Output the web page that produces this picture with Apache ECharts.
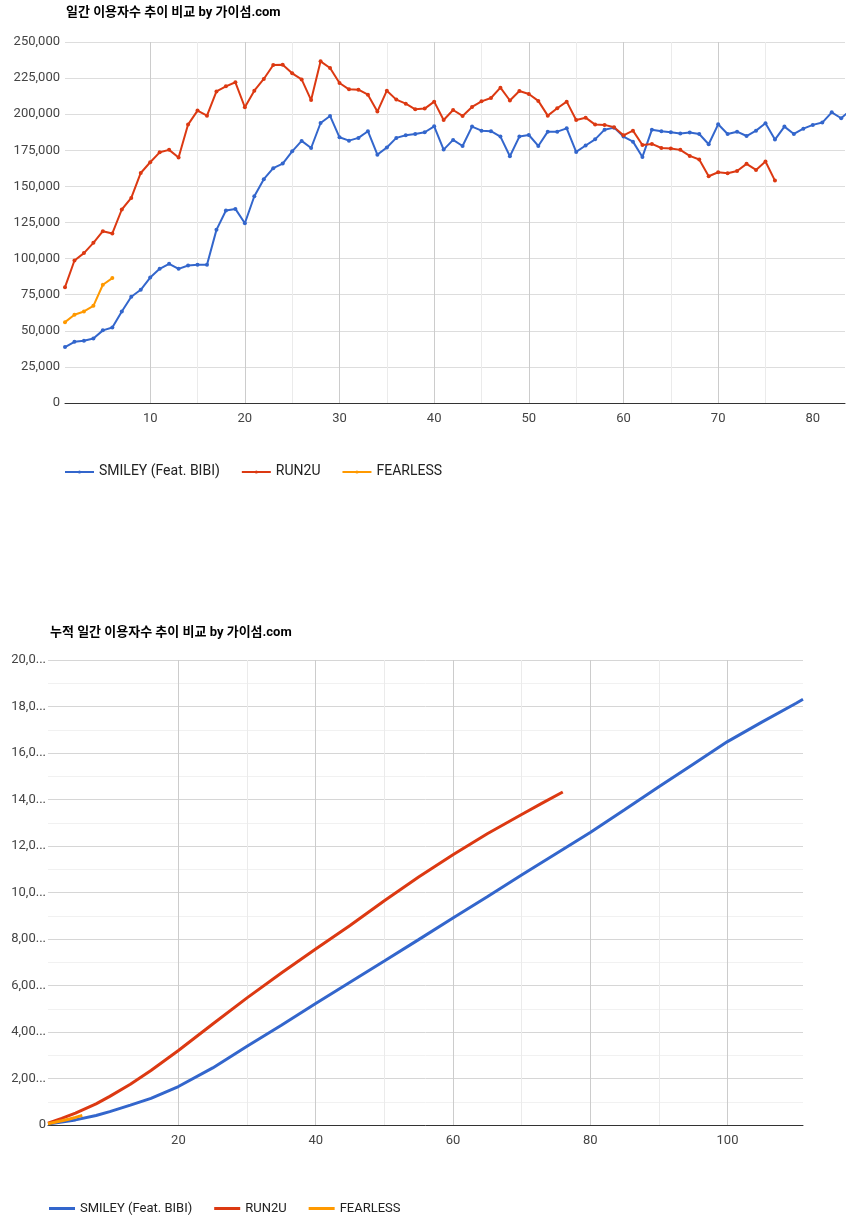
<!DOCTYPE html>
<html><head><meta charset="utf-8">
<script src="https://cdn.jsdelivr.net/npm/echarts@6/dist/echarts.min.js"></script>
<style>
html,body{margin:0;padding:0;background:#fff}
#c1{position:absolute;left:0;top:0;width:850px;height:600px}
#c2{position:absolute;left:0;top:600px;width:850px;height:624px}
</style>
</head><body><div id="c1"></div><div id="c2"></div>
<script>
// ---------- data ----------
const seriesNames = ['SMILEY (Feat. BIBI)', 'RUN2U', 'FEARLESS'];
const seriesColors = ['#3366cc', '#dc3912', '#ff9900'];
const titleDaily = '일간 이용자수 추이 비교 by 가이섬.com';
const titleCum = '누적 일간 이용자수 추이 비교 by 가이섬.com';

// daily users, day 1..N
const smileyDaily = [
  38700,42400,43100,44700,50300,52300,63400,73600,78400,86900,
  92900,96400,92900,95200,95700,95700,119900,133300,134400,124500,
  143200,155000,162600,165800,174300,181500,176600,193900,198800,184000,
  181700,183600,188200,172000,176900,183600,185400,186300,187500,191600,
  175500,182200,178000,191400,188600,188200,184500,170900,184500,185600,
  178000,187900,187900,190200,173900,178300,182600,189300,190700,184500,
  181000,170400,189300,188200,187500,186600,187300,186300,179200,193000,
  186300,187900,184900,188600,193700,182400,191400,186300,190000,192600,
  194200,201300,197200,203000
];
const run2uDaily = [
  80200,98700,103800,110900,119000,117400,134000,142000,159300,166700,
  173600,175300,170000,192800,202500,199000,215800,219300,222100,204800,
  216300,224400,234100,234300,228300,224100,209800,236600,232000,221600,
  217200,217000,213500,201800,216300,210100,207300,203400,203900,208700,
  196000,202900,198800,205000,208900,211200,218400,209500,216100,214000,
  209200,199000,204100,208700,196000,197600,192800,192600,190900,185400,
  188600,178700,179400,176600,176200,175300,171100,168600,157000,159800,
  159100,160700,165600,161400,167200,154000
];
const fearlessDaily = [56000,61100,63400,67300,81900,86500];

// cumulative users [day, total]
const smileyCum = [
  [1,39000],[3,124000],[5,219000],[8,409000],[10,574000],[13,856000],[16,1143000],
  [20,1655000],[25,2456000],[30,3390000],[35,4293000],[40,5227000],[45,6143000],
  [50,7057000],[55,7974000],[60,8900000],[65,9816000],[70,10749000],[75,11670000],
  [80,12580000],[85,13560000],[90,14550000],[95,15520000],[100,16490000],
  [105,17330000],[110,18140000],[111,18310000]
];
const run2uCum = [
  [1,80000],[3,283000],[5,513000],[8,906000],[10,1232000],[13,1751000],[16,2345000],
  [20,3207000],[25,4345000],[30,5469000],[35,6535000],[40,7568000],[45,8580000],
  [50,9649000],[55,10666000],[60,11625000],[65,12525000],[70,13356000],
  [73,13842000],[76,14324000]
];
const fearlessCum = [[1,56000],[2,117000],[3,181000],[4,248000],[5,330000],[6,416000]];

// axis ticks
const dailyXTicks = [10,20,30,40,50,60,70,80];
const dailyXGrid = [5,10,15,20,25,30,35,40,45,50,55,60,65,70,75,80];
const cumXTicks = [20,40,60,80,100];
const cumXGrid = [10,20,30,40,50,60,70,80,90,100,110];

// ---------- helpers ----------
const FONT = 'Roboto, "Noto Sans CJK KR", sans-serif';
const toPairs = arr => arr.map((v, i) => [i + 1, v]);
const fmt = v => v.toLocaleString('en-US');

// ---------- daily chart ----------
const c1 = echarts.init(document.getElementById('c1'), null, {renderer: 'canvas'});
const dailyData = [smileyDaily, run2uDaily, fearlessDaily];
c1.setOption({
  animation: false,
  textStyle: {fontFamily: FONT},
  title: {
    text: titleDaily, left: 66, top: 6, padding: 0,
    textStyle: {fontFamily: FONT, fontSize: 13, fontWeight: 'bold', color: '#000'}
  },
  grid: {left: 65, right: 5, top: 42, bottom: 197, containLabel: false},
  xAxis: {
    type: 'value', min: 1, max: 83.4,
    axisLine: {show: true, lineStyle: {color: '#333', width: 1}},
    axisTick: {show: false, customValues: dailyXGrid},
    axisLabel: {customValues: dailyXTicks, color: '#444', fontSize: 13, margin: 9, fontFamily: FONT},
    splitLine: {show: true, showMinLine: false, showMaxLine: false,
      lineStyle: {color: ['#cccccc', '#ebebeb'], width: 1}}
  },
  yAxis: {
    type: 'value', min: 0, max: 250000, interval: 25000,
    axisLine: {show: false}, axisTick: {show: false},
    axisLabel: {formatter: fmt, color: '#444', fontSize: 13, margin: 5, fontFamily: FONT},
    splitLine: {lineStyle: {color: '#dddddd', width: 1}}
  },
  legend: {
    left: 64, top: 465, padding: 0, itemGap: 21, itemWidth: 29, itemHeight: 4,
    textStyle: {fontFamily: FONT, fontSize: 14, color: '#222'},
    data: seriesNames
  },
  series: seriesNames.map((n, i) => ({
    name: n, type: 'line', data: toPairs(dailyData[i]),
    color: seriesColors[i], symbol: 'circle', symbolSize: 4, showSymbol: true,
    lineStyle: {width: 2}, clip: true
  }))
});

// ---------- cumulative chart ----------
const c2 = echarts.init(document.getElementById('c2'), null, {renderer: 'canvas'});
const cumData = [smileyCum, run2uCum, fearlessCum];
c2.setOption({
  animation: false,
  textStyle: {fontFamily: FONT},
  title: {
    text: titleCum, left: 50, top: 26, padding: 0,
    textStyle: {fontFamily: FONT, fontSize: 13, fontWeight: 'bold', color: '#000'}
  },
  grid: {left: 48, right: 47, top: 60, bottom: 99, containLabel: false},
  xAxis: {
    type: 'value', min: 1, max: 111,
    axisLine: {show: true, lineStyle: {color: '#333', width: 1}},
    axisTick: {show: false, customValues: cumXGrid},
    axisLabel: {customValues: cumXTicks, color: '#444', fontSize: 13, margin: 9, fontFamily: FONT},
    splitLine: {show: true, showMinLine: false, showMaxLine: false,
      lineStyle: {color: ['#cccccc', '#ebebeb'], width: 1}}
  },
  yAxis: {
    type: 'value', min: 0, max: 20000000, interval: 2000000,
    axisLine: {show: false}, axisTick: {show: false},
    axisLabel: {
      formatter: v => v === 0 ? '0' : fmt(v).slice(0, 4) + '...',
      color: '#444', fontSize: 13, margin: 2, fontFamily: FONT
    },
    splitLine: {lineStyle: {color: '#d6d6d6', width: 1}},
    minorTick: {show: false, splitNumber: 2},
    minorSplitLine: {show: true, lineStyle: {color: '#f1f1f1', width: 1}}
  },
  legend: {
    left: 49, top: 602, padding: 0, itemGap: 22, itemWidth: 26, itemHeight: 3,
    icon: 'rect',
    textStyle: {fontFamily: FONT, fontSize: 13, color: '#222'},
    data: seriesNames
  },
  series: seriesNames.map((n, i) => ({
    name: n, type: 'line', data: cumData[i],
    color: seriesColors[i], symbol: 'none', showSymbol: false,
    lineStyle: {width: 3}
  }))
});
</script>
</body></html>
